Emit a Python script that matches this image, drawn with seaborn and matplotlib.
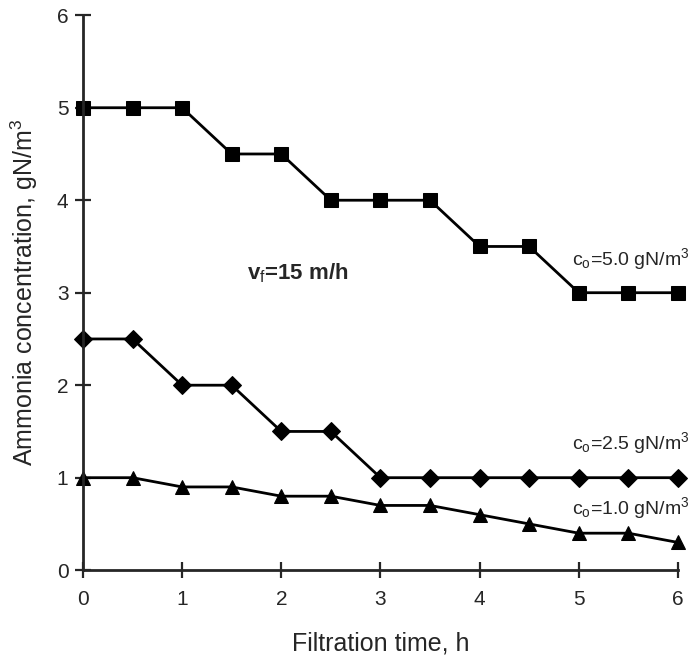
import matplotlib
matplotlib.use("Agg")
import matplotlib.pyplot as plt
import pandas as pd
import seaborn as sns

# Dados (tempo de filtração em h, concentração em gN/m3)
tempo = [0, 0.5, 1, 1.5, 2, 2.5, 3, 3.5, 4, 4.5, 5, 5.5, 6]
c_50 = [5, 5, 5, 4.5, 4.5, 4, 4, 4, 3.5, 3.5, 3, 3, 3]
c_25 = [2.5, 2.5, 2, 2, 1.5, 1.5, 1, 1, 1, 1, 1, 1, 1]
c_10 = [1, 1, 0.9, 0.9, 0.8, 0.8, 0.7, 0.7, 0.6, 0.5, 0.4, 0.4, 0.3]

rotulos = [r"c$_\mathrm{o}$=5.0 gN/m$^3$", r"c$_\mathrm{o}$=2.5 gN/m$^3$", r"c$_\mathrm{o}$=1.0 gN/m$^3$"]
pos_rotulos = [3.30, 1.31, 0.61]
marcadores = ["s", "D", "^"]

sns.set_style("ticks")
plt.rcParams["font.family"] = ["Liberation Sans", "DejaVu Sans"]
plt.rcParams["mathtext.fontset"] = "custom"
plt.rcParams["mathtext.rm"] = "Liberation Sans"
plt.rcParams["mathtext.it"] = "Liberation Sans:italic"
plt.rcParams["mathtext.bf"] = "Liberation Sans:bold"

fig = plt.figure(figsize=(6.95, 6.63), dpi=100)
ax = fig.add_axes([0.1194, 0.140, 0.856, 0.837])

for serie, marc, tam in zip([c_50, c_25, c_10], marcadores, [10, 9, 10.5]):
    df = pd.DataFrame({"t": tempo, "c": serie})
    sns.lineplot(data=df, x="t", y="c", ax=ax, color="black", linewidth=2.0,
                 marker=marc, markersize=tam, markeredgecolor="black", clip_on=False)

ax.set_xlim(0, 6)
ax.set_ylim(0, 6)
ax.set_xticks(range(0, 7))
ax.set_yticks(range(0, 7))
ax.tick_params(direction="inout", length=11, width=1.6, labelsize=15)
ax.tick_params(axis="x", pad=9)
ax.tick_params(axis="y", pad=5)
for lado in ["top", "right"]:
    ax.spines[lado].set_visible(False)
for lado in ["left", "bottom"]:
    ax.spines[lado].set_linewidth(2.0)

ax.set_xlabel("Filtration time, h", fontsize=18, labelpad=16)
ax.set_ylabel(r"Ammonia concentration, gN/m$^3$", fontsize=18, labelpad=12)

ax.text(1.65, 3.21, r"v$_\mathrm{f}$=15 m/h", fontsize=16, fontweight="bold", va="center")
for rot, ypos in zip(rotulos, pos_rotulos):
    ax.text(6.12, ypos, rot, fontsize=14, ha="right", va="baseline")

fig.savefig("out.png", dpi=100)
plt.close(fig)
